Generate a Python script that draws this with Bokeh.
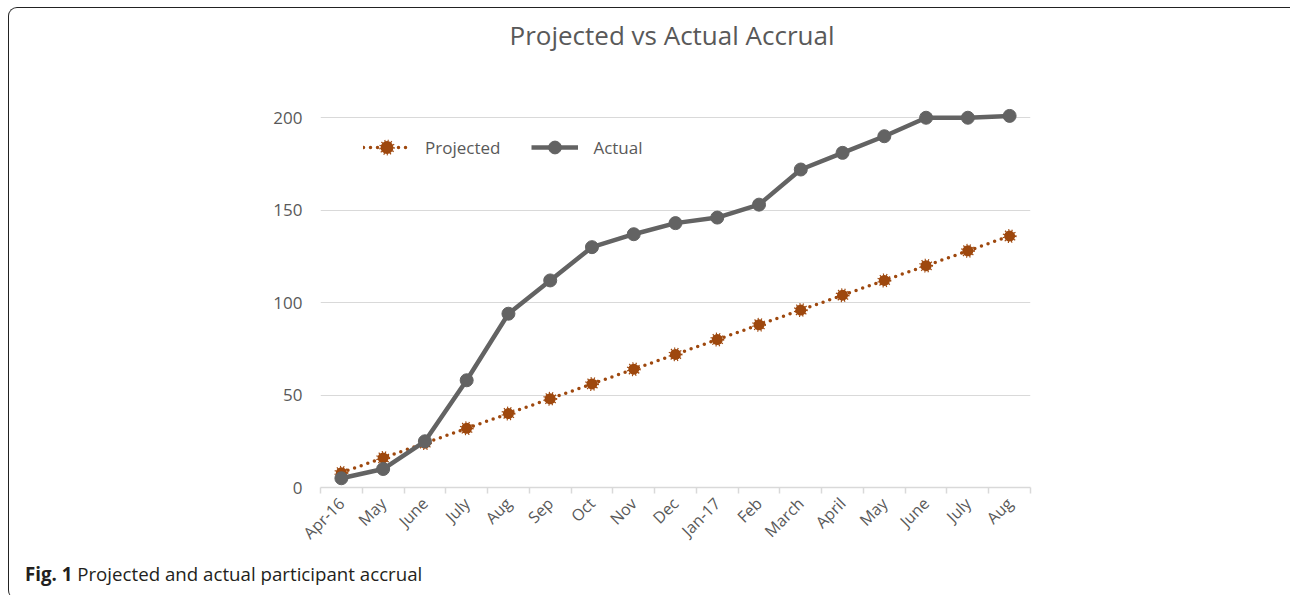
import math
from bokeh.plotting import figure
from bokeh.layouts import column
from bokeh.models import (ColumnDataSource, FixedTicker, Range1d, Legend, LegendItem, Div)
from bokeh.embed import file_html
from bokeh.resources import INLINE

months = ["Apr-16", "May", "June", "July", "Aug", "Sep", "Oct", "Nov", "Dec",
          "Jan-17", "Feb", "March", "April", "May", "June", "July", "Aug"]
projected = [8, 16, 24, 32, 40, 48, 56, 64, 72, 80, 88, 96, 104, 112, 120, 128, 136]
actual = [5, 10, 25, 58, 94, 112, 130, 137, 143, 146, 153, 172, 181, 190, 200, 200, 201]
y_ticks = [0, 50, 100, 150, 200]

FONT = "Open Sans"
TXT = "#595959"
ORANGE = "#9E480E"
GRAY = "#636363"

idx = list(range(len(months)))
src = ColumnDataSource(dict(x=idx, projected=projected, actual=actual))

W = 1280
TITLE_H = 56
H = 488
p = figure(width=W, height=H, output_backend="svg", toolbar_location=None,
           x_range=Range1d(-0.5, len(months) - 0.5), y_range=Range1d(0, 205),
           min_border_left=311, min_border_right=259, min_border_top=34,
           min_border_bottom=75)
p.outline_line_color = None
p.background_fill_color = "white"
p.border_fill_color = "white"

# grid
p.xgrid.grid_line_color = None
p.ygrid.grid_line_color = "#D9D9D9"
p.ygrid.grid_line_width = 1.2
p.ygrid.ticker = FixedTicker(ticks=y_ticks)

# y axis
p.yaxis.ticker = FixedTicker(ticks=y_ticks)
p.yaxis.axis_line_color = None
p.yaxis.major_tick_line_color = None
p.yaxis.minor_tick_line_color = None
p.yaxis.major_label_text_font = FONT
p.yaxis.major_label_text_font_size = "17px"
p.yaxis.major_label_text_color = TXT
p.yaxis.major_label_standoff = 12

# x axis
p.xaxis.ticker = FixedTicker(ticks=idx, minor_ticks=[i - 0.5 for i in range(len(months) + 1)])
p.xaxis.major_label_overrides = {i: m for i, m in enumerate(months)}
p.xaxis.axis_line_color = "#D9D9D9"
p.xaxis.axis_line_width = 1.5
p.xaxis.major_tick_line_color = None
p.xaxis.minor_tick_line_color = "#D9D9D9"
p.xaxis.minor_tick_line_width = 1.5
p.xaxis.minor_tick_out = 6
p.xaxis.minor_tick_in = 0
p.xaxis.major_label_orientation = math.pi / 4
p.xaxis.major_label_text_font = FONT
p.xaxis.major_label_text_font_size = "16px"
p.xaxis.major_label_text_color = TXT
p.xaxis.major_label_standoff = 7

# series
pl = p.line("x", "projected", source=src, line_color=ORANGE, line_width=3.5,
            line_dash="0 7", line_cap="round")
ps = p.scatter("x", "projected", source=src, marker="circle", size=11,
               fill_color=ORANGE, line_color=ORANGE, line_width=3, line_dash="1 2")
al = p.line("x", "actual", source=src, line_color=GRAY, line_width=4.5, line_join="round")
asc = p.scatter("x", "actual", source=src, marker="circle", size=13,
                fill_color=GRAY, line_color=GRAY)

legend = Legend(items=[LegendItem(label="Projected", renderers=[pl, ps]),
                       LegendItem(label="Actual", renderers=[al, asc])],
                orientation="horizontal", location=(43, 324),
                glyph_width=47, glyph_height=32, label_standoff=15, spacing=31,
                padding=0, margin=0, border_line_color=None,
                background_fill_alpha=0,
                label_text_font=FONT, label_text_font_size="17px",
                label_text_color=TXT)
p.add_layout(legend, "center")

title = Div(text=('<div style="width:1280px; text-align:center; padding-left:36px; '
                  'box-sizing:border-box; padding-top:7px; line-height:30px;">'
                  'Projected vs Actual Accrual</div>'),
            width=W, height=TITLE_H,
            styles={"font-family": FONT, "font-size": "26px", "color": TXT})

caption = Div(text="<b>Fig. 1</b> Projected and actual participant accrual",
              width=W, height=32,
              styles={"font-family": FONT, "font-size": "18.7px", "color": "#231F20",
                      "padding-left": "11px", "line-height": "24px",
                      "margin-top": "0px"})

layout = column(title, p, caption, spacing=0,
                styles={"margin-left": "8px", "margin-top": "7px",
                        "border-left": "1.5px solid #222", "border-top": "1.5px solid #222",
                        "border-top-left-radius": "9px", "border-bottom-left-radius": "9px"})

open("out.html", "w").write(file_html(layout, INLINE))
